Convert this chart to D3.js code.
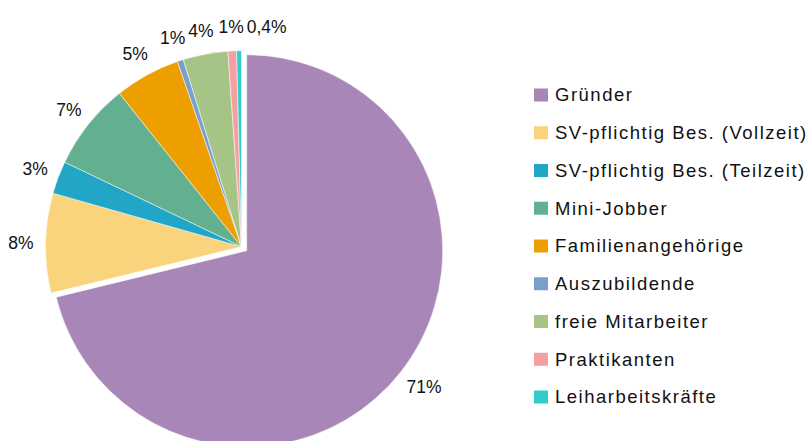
<!DOCTYPE html>
<html><head><meta charset="utf-8">
<script src="https://cdn.jsdelivr.net/npm/d3@7"></script>
<style>body{margin:0;background:#fff}svg{display:block}</style>
</head><body><svg id="c" width="807" height="441"></svg>
<script>
const categories = ["Gründer","SV-pflichtig Bes. (Vollzeit)","SV-pflichtig Bes. (Teilzeit)","Mini-Jobber","Familienangehörige","Auszubildende","freie Mitarbeiter","Praktikanten","Leiharbeitskräfte"];
const values = [71.2, 8.2, 2.7, 7.2, 5.4, 0.5, 3.7, 0.7, 0.4];
const labels = ["71%","8%","3%","7%","5%","1%","4%","1%","0,4%"];
const colors = ["#A886B8","#F9D47C","#21A6C7","#62B08F","#EE9F00","#7B9FCB","#A5C486","#F4A0A3","#33CCCC"];
const exploded = [true,false,false,false,false,false,false,false,false];

const svg = d3.select("#c");
const cx = 241.5, cy = 246.7, r = 196, explode = 6.6;
const font = "'Liberation Sans', Arial, sans-serif";

const data = categories.map((c,i)=>({cat:c, value:values[i], label:labels[i], color:colors[i], ex:exploded[i]}));
const pie = d3.pie().sort(null).value(d=>d.value);
const arcs = pie(data);
const arc = d3.arc().innerRadius(0).outerRadius(r);

const g = svg.append("g").attr("transform",`translate(${cx},${cy})`);
arcs.forEach(a=>{
  const mid = (a.startAngle+a.endAngle)/2;
  a.dx = Math.sin(mid); a.dy = -Math.cos(mid);
  a.ox = a.data.ex ? a.dx*explode : 0;
  a.oy = a.data.ex ? a.dy*explode : 0;
});
g.selectAll("path").data(arcs).join("path")
  .attr("d",arc)
  .attr("transform",d=>`translate(${d.ox},${d.oy})`)
  .attr("fill",d=>d.data.color)
  .attr("stroke","#fff").attr("stroke-width",0.5);

// labels
const fs = 17.5;
const gap = 12;
const meas = svg.append("text").style("font-family",font).style("font-size",fs+"px");
const lab = arcs.map(a=>{
  meas.text(a.data.label);
  const w = meas.node().getComputedTextLength();
  const h = 24;
  const R = r + gap;
  return {a, w, h,
    x: a.ox + a.dx*R + a.dx*w/2,
    y: a.oy + a.dy*R + a.dy*h/2};
});
meas.remove();
// simple collision resolution: push overlapping labels to the right (in order of pie)
for (let i=1;i<lab.length;i++){
  const p = lab[i-1], q = lab[i];
  const overlapY = Math.abs(p.y-q.y) < 17;
  const pr = p.x + p.w/2, ql = q.x - q.w/2;
  if (overlapY && ql < pr + 3 && q.x >= p.x - 20) {
    q.x += (pr + 3) - ql;
  }
}
g.selectAll("text.lbl").data(lab).join("text")
  .attr("class","lbl")
  .attr("x",d=>d.x).attr("y",d=>d.y)
  .attr("text-anchor","middle").attr("dy","0.35em")
  .style("font-family",font).style("font-size",fs+"px").attr("fill","#111")
  .text(d=>d.a.data.label);

// legend
const lx = 534, ly0 = 95, step = 37.75;
const lg = svg.append("g");
const items = lg.selectAll("g").data(data).join("g")
  .attr("transform",(d,i)=>`translate(${lx},${ly0+i*step})`);
items.append("rect").attr("x",0).attr("y",-6.5).attr("width",14).attr("height",13).attr("fill",d=>d.color);
items.append("text").attr("x",21).attr("y",0).attr("dy","0.35em")
  .style("font-family",font).style("font-size","18.5px").style("letter-spacing","1.5px").attr("fill","#111")
  .text(d=>d.cat);
</script></body></html>
